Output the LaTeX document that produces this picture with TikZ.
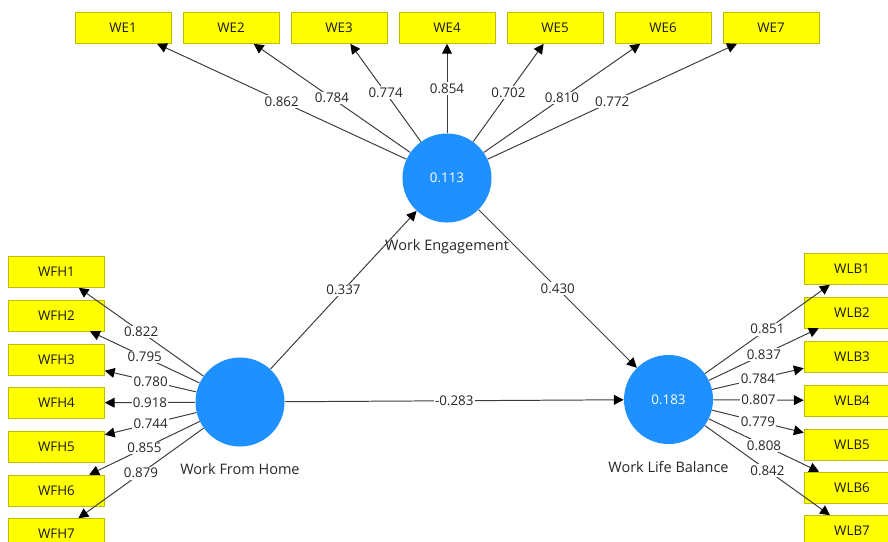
\documentclass[tikz,border=0pt]{standalone}
\usepackage{fontspec}
\setmainfont{Open Sans}
\usetikzlibrary{arrows.meta,positioning}

\definecolor{lvblue}{RGB}{30,144,255}
\definecolor{indyellow}{RGB}{255,255,0}
\definecolor{indedge}{RGB}{190,190,0}
\definecolor{pathgray}{RGB}{60,60,60}

\begin{document}
\begin{tikzpicture}[x=0.025cm,y=-0.025cm,
  font=\fontsize{9.5}{11}\selectfont,
  latent/.style={circle,fill=lvblue,minimum size=2.225cm,inner sep=0pt,text=white},
  item/.style={rectangle,draw=indedge,fill=indyellow,minimum width=2.4cm,minimum height=0.775cm,inner sep=0pt,text=black!90},
  lvname/.style={inner sep=0pt,text=black!85,font=\fontsize{10.3}{12}\selectfont},
  load/.style={fill=white,inner sep=1pt,text=black!85},
  path/.style={draw=pathgray,line width=0.7pt,-{Triangle[length=7pt,width=7pt,color=black]}}]
\useasboundingbox (0,0) rectangle (888,541);

% latent variables
\node [latent] (we) at (447,178) {0.113};
\node [latent] (wfh) at (240,402) {};
\node [latent] (wlb) at (668.5,399.5) {0.183};
\node [lvname, below=12pt of we] (wename) {Work Engagement};
\node [lvname, below=12pt of wfh] (wfhname) {Work From Home};
\node [lvname, below=12pt of wlb] (wlbname) {Work Life Balance};

% indicators
\node [item] (we1) at (123,28) {WE1};
\node [item] (we2) at (231,28) {WE2};
\node [item] (we3) at (339,28) {WE3};
\node [item] (we4) at (447,28) {WE4};
\node [item] (we5) at (555,28) {WE5};
\node [item] (we6) at (663,28) {WE6};
\node [item] (we7) at (771,28) {WE7};

\node [item] (wfh1) at (56.5,272) {WFH1};
\node [item] (wfh2) at (56.5,315.5) {WFH2};
\node [item] (wfh3) at (56.5,359.5) {WFH3};
\node [item] (wfh4) at (56.5,403) {WFH4};
\node [item] (wfh5) at (56.5,446.5) {WFH5};
\node [item] (wfh6) at (56.5,490.5) {WFH6};
\node [item] (wfh7) at (56.5,534) {WFH7};

\node [item] (wlb1) at (852,269) {WLB1};
\node [item] (wlb2) at (852,312.5) {WLB2};
\node [item] (wlb3) at (852,357) {WLB3};
\node [item] (wlb4) at (852,400.5) {WLB4};
\node [item] (wlb5) at (852,444.5) {WLB5};
\node [item] (wlb6) at (852,487.5) {WLB6};
\node [item] (wlb7) at (852,531) {WLB7};

% outer loadings
\draw [path] (we) -- node [load] {0.862} (we1);
\draw [path] (we) -- node [load] {0.784} (we2);
\draw [path] (we) -- node [load] {0.774} (we3);
\draw [path] (we) -- node [load] {0.854} (we4);
\draw [path] (we) -- node [load] {0.702} (we5);
\draw [path] (we) -- node [load] {0.810} (we6);
\draw [path] (we) -- node [load] {0.772} (we7);

\draw [path] (wfh) -- node [load] {0.822} (wfh1);
\draw [path] (wfh) -- node [load] {0.795} (wfh2);
\draw [path] (wfh) -- node [load] {0.780} (wfh3);
\draw [path] (wfh) -- node [load] {0.918} (wfh4);
\draw [path] (wfh) -- node [load] {0.744} (wfh5);
\draw [path] (wfh) -- node [load] {0.855} (wfh6);
\draw [path] (wfh) -- node [load] {0.879} (wfh7);

\draw [path] (wlb) -- node [load] {0.851} (wlb1);
\draw [path] (wlb) -- node [load] {0.837} (wlb2);
\draw [path] (wlb) -- node [load] {0.784} (wlb3);
\draw [path] (wlb) -- node [load] {0.807} (wlb4);
\draw [path] (wlb) -- node [load] {0.779} (wlb5);
\draw [path] (wlb) -- node [load] {0.808} (wlb6);
\draw [path] (wlb) -- node [load] {0.842} (wlb7);

% inner model
\draw [path] (wfh) -- node [load] {0.337} (we);
\draw [path] (we) -- node [load] {0.430} (wlb);
\draw [path] (wfh) -- node [load] {-0.283} (wlb);
\end{tikzpicture}
\end{document}
